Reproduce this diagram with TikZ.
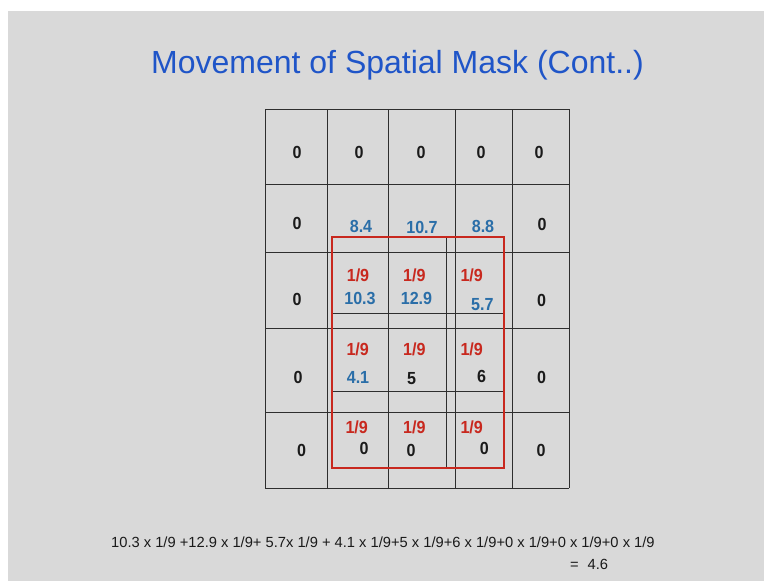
\documentclass[tikz,border=0pt]{standalone}
\usepackage{fontspec}
\setmainfont{Liberation Sans}
\newfontfamily\cellfont[BoldFont={Liberation Sans Bold},BoldFeatures={FakeStretch=0.92}]{Liberation Sans}
\definecolor{slidebg}{HTML}{D9D9D9}
\definecolor{titleblue}{HTML}{1F55C8}
\definecolor{valblue}{HTML}{2A6EA8}
\definecolor{maskred}{HTML}{C8281E}
\definecolor{gridline}{HTML}{2E2E2E}
\definecolor{inktext}{HTML}{1A1A1A}
\begin{document}
\begin{tikzpicture}[x=1pt,y=-1pt,
  cell/.style={inner sep=0pt,anchor=base,font=\cellfont\bfseries\fontsize{17.5}{20}\selectfont},
  zero/.style={cell,text=inktext},
  val/.style={cell,text=valblue},
  wt/.style={cell,text=maskred},
  gridln/.style={draw=gridline,line width=1pt},
  maskln/.style={draw=maskred,line width=1.5pt}]
\useasboundingbox (0,0) rectangle (764,581);
% slide background
\fill[white] (0,0) rectangle (764,581);
\fill[slidebg] (8,11) rectangle (764,581);

% title
\node[inner sep=0pt,anchor=base,text=titleblue,font=\fontsize{32}{38}\selectfont]
  (title) at (397.5,73) {Movement of Spatial Mask (Cont..)};

% 5x5 image grid
\foreach \x in {265,327,388,455,512,569} \draw[gridln] (\x,109) -- (\x,488);
\foreach \y in {109,184,252,328,412,488} \draw[gridln] (265,\y) -- (569,\y);

% 3x3 mask outline and its inner lines
\draw[gridln] (332,313) -- (504,313);
\draw[gridln] (332,391) -- (504,391);
\draw[gridln] (446,237) -- (446,468);
\draw[maskln] (332,237) rectangle (504,468);

% row 1
\node[zero] (r1c1) at (297,158.5) {0};
\node[zero] (r1c2) at (359,158.5) {0};
\node[zero] (r1c3) at (421,158.5) {0};
\node[zero] (r1c4) at (481,158.5) {0};
\node[zero] (r1c5) at (539,158.5) {0};
% row 2
\node[zero] (r2c1) at (297,229.5) {0};
\node[val]  (r2c2) at (361,232.5) {8.4};
\node[val]  (r2c3) at (422,233.5) {10.7};
\node[val]  (r2c4) at (483,232.5) {8.8};
\node[zero] (r2c5) at (542,230.5) {0};
% row 3
\node[zero] (r3c1) at (297,305.5) {0};
\node[wt]   (w3c2) at (358,281.5) {1/9};
\node[val]  (r3c2) at (360,304.5) {10.3};
\node[wt]   (w3c3) at (414.3,281.5) {1/9};
\node[val]  (r3c3) at (416.5,304.5) {12.9};
\node[wt]   (w3c4) at (471.7,281.5) {1/9};
\node[val]  (r3c4) at (482.3,310.5) {5.7};
\node[zero] (r3c5) at (541.7,306.5) {0};
% row 4
\node[zero] (r4c1) at (298,383.5) {0};
\node[wt]   (w4c2) at (357.7,355) {1/9};
\node[val]  (r4c2) at (358,383.5) {4.1};
\node[wt]   (w4c3) at (414.3,355) {1/9};
\node[zero] (r4c3) at (411.7,384.5) {5};
\node[wt]   (w4c4) at (471.7,355) {1/9};
\node[zero] (r4c4) at (481.7,382.5) {6};
\node[zero] (r4c5) at (541.7,383.5) {0};
% row 5
\node[zero] (r5c1) at (301.7,456.5) {0};
\node[wt]   (w5c2) at (356.7,433.5) {1/9};
\node[zero] (r5c2) at (364,454.5) {0};
\node[wt]   (w5c3) at (414.3,433.5) {1/9};
\node[zero] (r5c3) at (411,456.5) {0};
\node[wt]   (w5c4) at (471.7,433.5) {1/9};
\node[zero] (r5c4) at (484.3,454.5) {0};
\node[zero] (r5c5) at (541,456.5) {0};

% weighted sum
\node[inner sep=0pt,anchor=base west,text=inktext,font=\fontsize{14.7}{17}\selectfont]
  (sum) at (111,547) {10.3 x 1/9 +12.9 x 1/9+ 5.7x 1/9 + 4.1 x 1/9+5 x 1/9+6 x 1/9+0 x 1/9+0 x 1/9+0 x 1/9};
\node[inner sep=0pt,anchor=base west,text=inktext,font=\fontsize{14.7}{17}\selectfont]
  (result) at (570,569) {=\hspace{0.6em}4.6};
\end{tikzpicture}
\end{document}
